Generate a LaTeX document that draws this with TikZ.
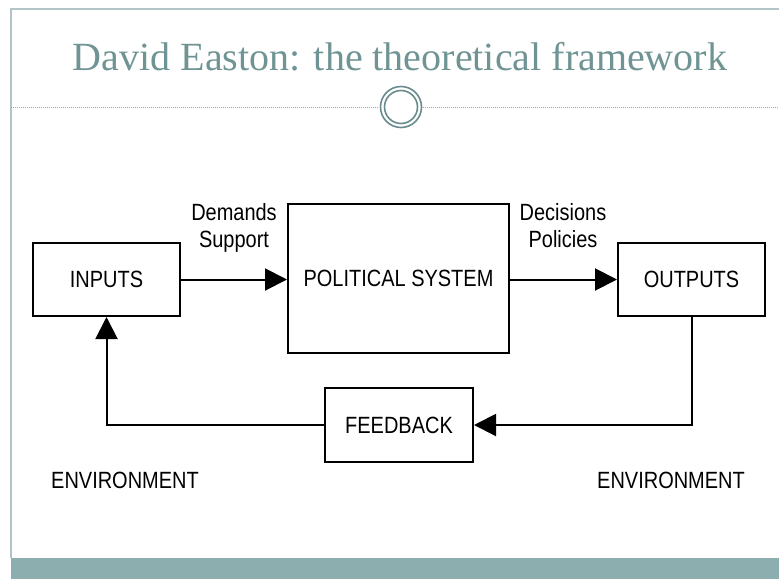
\documentclass[tikz,border=0pt]{standalone}
\usepackage{fontspec}
\setmainfont{Liberation Serif}
\setsansfont{Liberation Sans}
\usetikzlibrary{arrows.meta,positioning}
\definecolor{titlecol}{RGB}{112,148,148}
\definecolor{bordercol}{RGB}{178,196,200}
\definecolor{bandcol}{RGB}{141,174,174}
\definecolor{ringcol}{RGB}{104,140,142}
\definecolor{dotcol}{RGB}{150,170,172}
\newcommand{\dtxt}[1]{\scalebox{0.85}[1]{#1}}
\tikzset{
  dlabel/.style={font=\sffamily\fontsize{23.5}{27}\selectfont, inner sep=0pt},
  blockbox/.style={draw, line width=2pt, rectangle, inner sep=0pt,
    font=\sffamily\fontsize{23.5}{27}\selectfont},
  flow/.style={line width=2pt, -{Triangle[length=22pt,width=22pt]}},
  plainline/.style={line width=2pt}
}
\begin{document}
\begin{tikzpicture}[x=1pt,y=-1pt]
\useasboundingbox (0,0) rectangle (779,579);
\fill[white] (0,0) rectangle (779,579);
% slide frame
\draw[bordercol, line width=1.5pt] (11,558) -- (11,9) -- (779,9);
\fill[bandcol] (11,558) rectangle (779,579);
% title
\node[anchor=base, text=titlecol, font=\fontsize{40}{44}\selectfont, inner sep=0pt] (title) at (400,70) {David Easton: the theoretical framework};
% dotted separator with ring
\draw[dotcol, line width=1pt, dash pattern=on 1pt off 1pt] (11,107) -- (379,107);
\draw[dotcol, line width=1pt, dash pattern=on 1pt off 1pt] (423,107) -- (779,107);
\draw[ringcol, line width=1.6pt, fill=white] (401,107) circle (20.5);
\draw[ringcol, line width=1.6pt] (401,107) circle (16.5);
% blocks
\node[blockbox, minimum width=147pt, minimum height=73pt] (inputs) at (106.5,279.5) {\dtxt{INPUTS}};
\node[blockbox, minimum width=221pt, minimum height=149pt] (pol) at (398.5,278.5) {\dtxt{POLITICAL SYSTEM}};
\node[blockbox, minimum width=147pt, minimum height=73pt] (outputs) at (691.5,279.5) {\dtxt{OUTPUTS}};
\node[blockbox, minimum width=148pt, minimum height=74pt] (feedback) at (399,425) {\dtxt{FEEDBACK}};
% labels
\node[dlabel, anchor=base] (demands) at (234,220) {\dtxt{Demands}};
\node[dlabel, anchor=base] (support) at (234,247) {\dtxt{Support}};
\node[dlabel, anchor=base] (decisions) at (563,220) {\dtxt{Decisions}};
\node[dlabel, anchor=base] (policies) at (563,247) {\dtxt{Policies}};
\node[dlabel, anchor=base] (envl) at (125,488) {\dtxt{ENVIRONMENT}};
\node[dlabel, anchor=base] (envr) at (671,488) {\dtxt{ENVIRONMENT}};
% connectors
\draw[flow] (inputs.east) -- (inputs.east -| pol.west);
\draw[flow] (pol.east |- outputs.west) -- (outputs.west);
\draw[flow] (outputs.south) |- (feedback.east);
\draw[flow] (feedback.west) -| (inputs.south);
\end{tikzpicture}
\end{document}
